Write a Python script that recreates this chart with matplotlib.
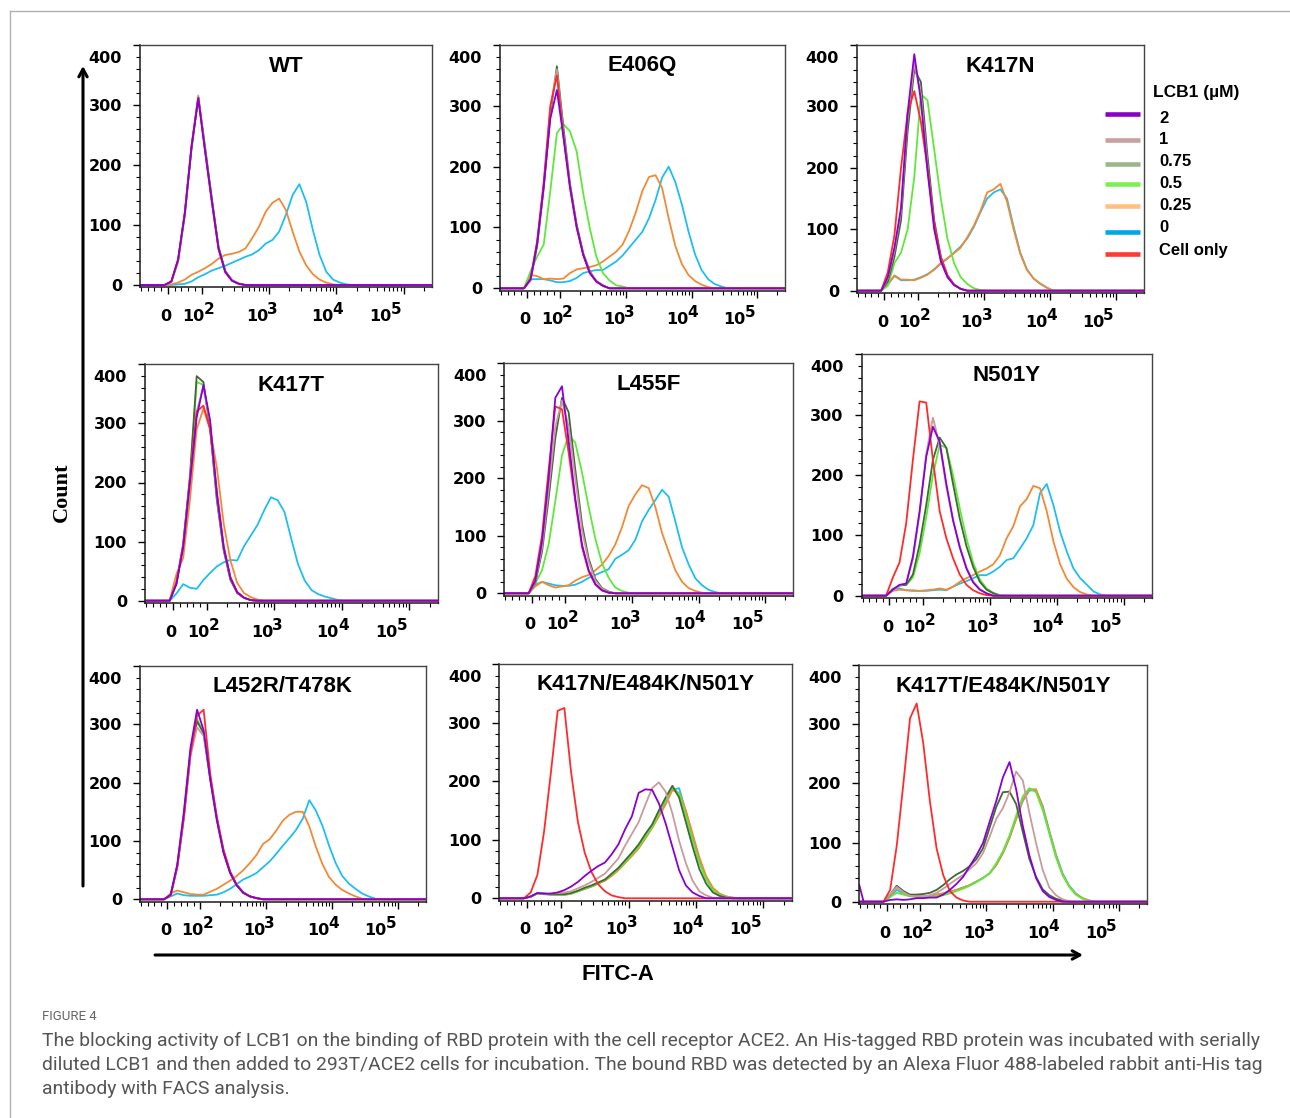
import numpy as np
import matplotlib
matplotlib.use('Agg')
import matplotlib.pyplot as plt
from matplotlib.transforms import ScaledTranslation, blended_transform_factory

plt.rcParams['font.family'] = ['Liberation Sans', 'DejaVu Sans']
plt.rcParams['font.weight'] = 'bold'

# ---------------- data ----------------
# fluorescence (FITC-A) bin centres shared by all histograms
X_GRID = [-10, 10, 30, 50, 70, 90, 112, 141, 178, 224, 282, 355, 447, 562, 708, 891,
          1122, 1413, 1778, 2239, 2818, 3548, 4467, 5623, 7079, 8913, 11220, 14125,
          17783, 22387, 28184, 35481, 44668, 56234, 70795]
X_MIN, X_MAX = -83, 262144

SERIES = ['2', '1', '0.75', '0.5', '0.25', '0', 'Cell only']
PANELS = ['WT', 'E406Q', 'K417N', 'K417T', 'L455F', 'N501Y',
          'L452R/T478K', 'K417N/E484K/N501Y', 'K417T/E484K/N501Y']

# counts per bin (trailing zeros omitted)
WT_2 = [0, 6, 42, 119, 230, 311, 225, 142, 61, 22, 7, 2, 0]
WT_1 = [0, 5, 40, 117, 232, 316, 228, 140, 60, 22, 8, 2, 0]
WT_075 = [0, 5, 41, 120, 228, 313, 230, 145, 63, 23, 8, 2, 0]
WT_05 = [0, 5, 38, 115, 228, 314, 232, 146, 64, 24, 8, 3, 0]
WT_025 = [0, 1, 4, 9, 17, 22, 28, 35, 44, 50, 52, 55, 61, 78, 97, 122, 137, 144, 125, 89, 56, 33, 18, 9, 4, 1, 0]
WT_0 = [0, 0, 1, 2, 6, 13, 18, 24, 28, 32, 37, 42, 47, 51, 58, 69, 75, 89, 117, 150, 168, 139, 92, 50, 22, 9, 4, 1, 0]
WT_CELL = [0, 6, 43, 121, 233, 312, 224, 140, 60, 21, 7, 2, 0]

E406Q_2 = [0, 15, 73, 167, 279, 326, 249, 167, 101, 55, 25, 11, 4, 0]
E406Q_1 = [0, 14, 75, 170, 295, 360, 255, 170, 102, 56, 26, 12, 4, 0]
E406Q_075 = [0, 13, 70, 165, 285, 365, 265, 172, 105, 58, 28, 12, 5, 0]
E406Q_05 = [0, 28, 52, 72, 160, 255, 270, 258, 225, 156, 99, 52, 25, 13, 5, 3, 0]
E406Q_025 = [0, 22, 20, 15, 16, 15, 16, 25, 31, 33, 35, 38, 44, 52, 60, 72, 95, 125, 160, 183, 186, 165, 115, 70, 40, 22, 12, 6, 2, 0]
E406Q_0 = [0, 15, 15, 15, 13, 10, 10, 12, 17, 25, 28, 30, 30, 37, 44, 54, 67, 80, 93, 115, 145, 182, 200, 175, 138, 94, 56, 30, 15, 7, 3, 0]
E406Q_CELL = [0, 16, 78, 175, 300, 350, 250, 165, 100, 55, 25, 11, 4, 0]

K417N_2 = [0, 22, 70, 135, 290, 385, 310, 195, 100, 48, 22, 9, 3, 0]
K417N_1 = [0, 20, 65, 130, 280, 370, 320, 205, 105, 50, 23, 10, 3, 0]
K417N_075 = [0, 15, 55, 115, 260, 360, 340, 220, 115, 55, 25, 10, 3, 0]
K417N_05 = [0, 8, 45, 62, 100, 185, 320, 310, 230, 150, 85, 45, 22, 11, 4, 1, 0]
K417N_025 = [0, 10, 25, 18, 18, 17, 21, 26, 35, 45, 53, 61, 70, 87, 106, 130, 160, 165, 174, 145, 100, 60, 34, 20, 12, 5, 0]
K417N_0 = [0, 10, 24, 17, 17, 18, 22, 27, 34, 44, 52, 62, 72, 85, 104, 128, 150, 160, 165, 150, 104, 62, 35, 20, 11, 5, 0]
K417N_CELL = [0, 30, 90, 200, 290, 325, 275, 200, 110, 55, 25, 10, 3, 0]

K417T_2 = [0, 28, 90, 200, 310, 365, 305, 180, 90, 38, 14, 5, 1, 0]
K417T_1 = [0, 29, 93, 205, 320, 362, 300, 176, 88, 37, 14, 5, 1, 0]
K417T_075 = [0, 30, 95, 210, 380, 370, 290, 170, 85, 35, 13, 5, 1, 0]
K417T_05 = [0, 28, 92, 205, 370, 365, 295, 172, 86, 36, 13, 5, 1, 0]
K417T_025 = [0, 45, 72, 170, 290, 325, 290, 225, 130, 68, 30, 13, 6, 2, 0]
K417T_0 = [0, 12, 28, 22, 20, 35, 47, 58, 65, 69, 68, 92, 110, 128, 153, 175, 170, 150, 105, 62, 34, 18, 11, 7, 4, 1, 0]
K417T_CELL = [0, 30, 95, 205, 320, 330, 290, 185, 92, 40, 15, 5, 1, 0]

L455F_2 = [0, 22, 90, 200, 340, 360, 265, 165, 85, 40, 16, 5, 1, 0]
L455F_1 = [0, 20, 80, 180, 290, 335, 290, 200, 110, 55, 22, 8, 2, 0]
L455F_075 = [0, 18, 72, 165, 270, 340, 315, 215, 120, 60, 25, 9, 3, 0]
L455F_05 = [0, 17, 40, 85, 160, 240, 275, 262, 210, 150, 95, 52, 27, 10, 4, 1, 0]
L455F_025 = [0, 12, 20, 14, 10, 12, 14, 22, 28, 32, 40, 50, 65, 85, 115, 152, 172, 188, 183, 150, 105, 72, 40, 20, 9, 4, 1, 0]
L455F_0 = [0, 15, 20, 17, 14, 13, 13, 15, 20, 27, 32, 37, 42, 60, 67, 75, 93, 125, 145, 162, 180, 168, 125, 80, 50, 26, 14, 6, 2, 0]
L455F_CELL = [0, 30, 100, 215, 325, 320, 245, 160, 80, 38, 15, 5, 1, 0]

N501Y_2 = [0, 10, 18, 20, 65, 140, 230, 280, 255, 185, 125, 80, 45, 22, 10, 4, 0]
N501Y_1 = [0, 9, 17, 20, 60, 135, 235, 295, 250, 180, 125, 82, 47, 24, 11, 4, 0]
N501Y_075 = [0, 10, 17, 18, 35, 85, 150, 225, 262, 245, 185, 128, 82, 48, 23, 10, 4, 0]
N501Y_05 = [0, 10, 17, 18, 30, 70, 130, 200, 250, 245, 200, 145, 95, 55, 27, 12, 5, 1, 0]
N501Y_025 = [0, 8, 10, 9, 9, 8, 9, 10, 12, 10, 15, 23, 29, 34, 40, 45, 52, 67, 95, 115, 148, 160, 182, 178, 140, 90, 52, 28, 14, 6, 2, 0]
N501Y_0 = [0, 12, 12, 9, 8, 8, 8, 9, 10, 9, 15, 20, 24, 29, 34, 34, 40, 48, 59, 62, 78, 95, 117, 170, 185, 150, 106, 73, 45, 29, 18, 7, 2, 0]
N501Y_CELL = [0, 30, 55, 120, 225, 322, 320, 225, 140, 95, 62, 35, 18, 9, 4, 1, 0]

L452R_2 = [0, 8, 60, 150, 260, 325, 290, 205, 135, 80, 45, 24, 11, 5, 2, 0]
L452R_1 = [0, 7, 55, 140, 245, 295, 280, 210, 140, 85, 47, 25, 12, 5, 2, 0]
L452R_075 = [0, 7, 57, 142, 250, 305, 285, 208, 138, 82, 46, 24, 11, 5, 2, 0]
L452R_05 = [0, 8, 58, 148, 255, 310, 283, 205, 135, 80, 45, 24, 11, 5, 2, 0]
L452R_025 = [0, 10, 15, 12, 9, 8, 8, 13, 18, 25, 32, 40, 50, 62, 76, 95, 103, 118, 135, 145, 150, 150, 125, 90, 60, 38, 25, 16, 10, 5, 1, 0]
L452R_0 = [0, 5, 10, 7, 6, 6, 6, 7, 8, 12, 18, 26, 34, 39, 45, 55, 65, 78, 92, 105, 119, 138, 170, 152, 126, 92, 62, 40, 27, 18, 10, 5, 1, 0]
L452R_CELL = [0, 7, 55, 140, 250, 315, 325, 215, 140, 85, 48, 25, 12, 5, 2, 0]

NEN_2 = [0, 3, 9, 8, 8, 10, 14, 20, 28, 38, 47, 55, 61, 75, 92, 118, 140, 180, 186, 185, 162, 128, 88, 48, 22, 10, 4, 0]
NEN_1 = [0, 3, 9, 8, 8, 9, 10, 12, 17, 22, 28, 35, 42, 55, 68, 90, 110, 130, 160, 188, 198, 182, 145, 98, 60, 30, 12, 5, 1, 0]
NEN_075 = [0, 3, 9, 8, 7, 7, 7, 9, 13, 18, 22, 27, 32, 42, 52, 65, 78, 92, 110, 126, 150, 172, 192, 172, 130, 88, 50, 25, 10, 4, 1, 0]
NEN_05 = [0, 3, 8, 8, 6, 6, 6, 8, 12, 17, 21, 26, 32, 40, 50, 62, 75, 88, 105, 122, 145, 168, 190, 178, 140, 98, 60, 32, 14, 6, 2, 0]
NEN_025 = [0, 3, 9, 8, 6, 6, 6, 8, 12, 16, 20, 25, 30, 38, 48, 60, 72, 85, 102, 120, 140, 160, 185, 180, 150, 110, 70, 38, 18, 8, 3, 1, 0]
NEN_0 = [0, 3, 8, 7, 6, 6, 6, 8, 12, 16, 20, 25, 31, 40, 50, 62, 74, 88, 104, 122, 142, 165, 185, 188, 148, 105, 65, 35, 16, 7, 3, 1, 0]
NEN_CELL = [0, 10, 40, 115, 215, 320, 325, 215, 130, 78, 45, 24, 12, 5, 2, 0]

TEN_2 = [0, 3, 4, 3, 4, 6, 6, 7, 7, 12, 20, 30, 42, 60, 78, 99, 135, 170, 210, 236, 190, 128, 78, 40, 18, 8, 3, 0]
TEN_1 = [0, 12, 25, 16, 10, 9, 9, 11, 15, 22, 30, 38, 45, 55, 65, 82, 110, 140, 158, 185, 220, 205, 150, 99, 54, 24, 11, 4, 1, 0]
TEN_075 = [0, 12, 27, 18, 12, 12, 13, 15, 20, 28, 38, 46, 52, 60, 72, 90, 125, 160, 185, 186, 165, 118, 72, 42, 21, 11, 5, 2, 0]
TEN_05 = [0, 8, 15, 12, 9, 8, 8, 8, 9, 11, 14, 18, 22, 27, 33, 40, 48, 65, 85, 112, 145, 178, 192, 185, 155, 115, 75, 45, 25, 12, 5, 1, 0]
TEN_025 = [0, 9, 25, 15, 10, 9, 9, 10, 12, 14, 17, 20, 24, 28, 34, 40, 48, 62, 82, 108, 140, 172, 190, 190, 160, 118, 78, 46, 26, 13, 6, 2, 0]
TEN_0 = [0, 8, 20, 13, 10, 9, 9, 10, 12, 14, 17, 20, 24, 28, 34, 40, 48, 62, 82, 108, 140, 170, 188, 188, 162, 120, 80, 48, 27, 14, 6, 2, 0]
TEN_CELL = [0, 20, 95, 200, 310, 335, 268, 170, 90, 45, 18, 7, 2, 0]
# events piled at the low edge of the 2 uM histogram in the last panel
TEN_2_EDGE_X = [-83, -70]
TEN_2_EDGE = [28, 0]

PANEL_DATA = [
    [WT_2, WT_1, WT_075, WT_05, WT_025, WT_0, WT_CELL],
    [E406Q_2, E406Q_1, E406Q_075, E406Q_05, E406Q_025, E406Q_0, E406Q_CELL],
    [K417N_2, K417N_1, K417N_075, K417N_05, K417N_025, K417N_0, K417N_CELL],
    [K417T_2, K417T_1, K417T_075, K417T_05, K417T_025, K417T_0, K417T_CELL],
    [L455F_2, L455F_1, L455F_075, L455F_05, L455F_025, L455F_0, L455F_CELL],
    [N501Y_2, N501Y_1, N501Y_075, N501Y_05, N501Y_025, N501Y_0, N501Y_CELL],
    [L452R_2, L452R_1, L452R_075, L452R_05, L452R_025, L452R_0, L452R_CELL],
    [NEN_2, NEN_1, NEN_075, NEN_05, NEN_025, NEN_0, NEN_CELL],
    [TEN_2, TEN_1, TEN_075, TEN_05, TEN_025, TEN_0, TEN_CELL],
]

XTICKS = [0, 1e2, 1e3, 1e4, 1e5]
XTICK_BASE = ['0', '10', '10', '10', '10']
XTICK_EXP = ['', '2', '3', '4', '5']
YTICKS = [0, 100, 200, 300, 400]

# ---------------- style / layout ----------------
LINE_COLORS = ['#8a00d4', '#c79c9a', '#3f6a33', '#5fe83a', '#f28a35', '#1fbef0', '#ff2b2b']
SWATCH_COLORS = ['#8b00c8', '#c8a0a0', '#9db48c', '#7cf050', '#ffc080', '#00a8e8', '#ff3838']
DRAW_ORDER = [5, 4, 3, 2, 1, 6, 0]
TICK_FONT = ['DejaVu Sans']

# axes boxes in pixels: left, right, top (=400), zero line
BOXES = [
    (140, 432, 45, 285), (500, 785, 45, 288.3), (857, 1144, 45, 290.7),
    (145, 437.7, 364.3, 600.7), (504.3, 793.3, 363.3, 593.3), (861.7, 1151.7, 354.3, 595.7),
    (140, 426, 666, 899.3), (499.3, 791.7, 664, 898.3), (859.3, 1146.7, 665, 901.7),
]
XLAB_SHIFT = [-2, 3, -1, -3, -12]
XLAB_DY = -29

W, H = 1290, 1118
fig = plt.figure(figsize=(W / 100, H / 100), dpi=100)
fig.patch.set_facecolor('white')

xs = np.concatenate([[X_MIN], X_GRID, [X_MAX]])


def full(vals):
    y = np.zeros(len(X_GRID))
    y[:len(vals)] = vals
    return np.concatenate([[0], y, [0]])


def px(dx, dy):
    return ScaledTranslation(dx / 100, dy / 100, fig.dpi_scale_trans)


YMIN = -4
minor_x = [-80, -60, -40, -20, 20, 40, 60, 80]
for e in range(2, 6):
    for k in range(2, 10):
        v = k * 10 ** e
        if v < X_MAX:
            minor_x.append(v)

for pi, (name, curves, box) in enumerate(zip(PANELS, PANEL_DATA, BOXES)):
    L, R, T, Y0 = box
    B = Y0 + (Y0 - T) * (-YMIN) / 400.0
    ax = fig.add_axes([L / W, 1 - B / H, (R - L) / W, (B - T) / H])
    ax.set_xscale('symlog', linthresh=100, linscale=0.45, base=10)
    for si in DRAW_ORDER:
        ax.plot(xs, full(curves[si]), color=LINE_COLORS[si], lw=1.3, solid_joinstyle='round')
        if pi == 8 and si == 0:
            ax.plot(TEN_2_EDGE_X, TEN_2_EDGE, color=LINE_COLORS[0], lw=1.3)
    ax.set_xlim(X_MIN, X_MAX)
    ax.set_ylim(YMIN, 400)
    ax.set_xticks(XTICKS)
    ax.set_xticklabels([])
    ax.set_xticks(minor_x, minor=True)
    ax.set_yticks(YTICKS)
    ax.set_yticks(np.arange(0, 401, 20), minor=True)
    ax.tick_params(axis='x', which='major', length=5, width=1)
    ax.tick_params(axis='x', which='minor', length=3, width=0.8)
    ax.tick_params(axis='y', which='major', length=5, width=1, pad=8)
    ax.tick_params(axis='y', which='minor', length=3, width=0.8)
    for lab in ax.get_yticklabels():
        lab.set_family(TICK_FONT)
        lab.set_fontsize(11.5)
        lab.set_fontweight('bold')
    ylabs = ax.get_yticklabels()
    ylabs[-1].set_transform(ylabs[-1].get_transform() + px(0, -12))
    # x tick labels: base and raised exponent, tied to tick positions
    bt = blended_transform_factory(ax.transData, ax.transAxes)
    for v, base, ex, dx in zip(XTICKS, XTICK_BASE, XTICK_EXP, XLAB_SHIFT):
        if ex == '':
            ax.text(v, 0, base, transform=bt + px(dx, XLAB_DY), ha='center', va='center',
                    fontsize=11.5, fontweight='bold', family=TICK_FONT)
        else:
            ax.text(v, 0, base, transform=bt + px(dx, XLAB_DY), ha='right', va='center',
                    fontsize=11.5, fontweight='bold', family=TICK_FONT)
            ax.text(v, 0, ex, transform=bt + px(dx - 1, XLAB_DY + 7), ha='left', va='center',
                    fontsize=11, fontweight='bold', family=TICK_FONT)
    for s in ['left', 'bottom']:
        ax.spines[s].set_color('#1a1a1a')
        ax.spines[s].set_linewidth(1.1)
    for s in ['top', 'right']:
        ax.spines[s].set_color('#444444')
        ax.spines[s].set_linewidth(1.0)
    ax.text(0.5, 1.0, name, transform=ax.transAxes + px(0, -21),
            ha='center', va='center', fontsize=16, fontweight='bold')

# ---------------- overlay: arrows, legend, caption ----------------
ov = fig.add_axes([0, 0, 1, 1])
ov.set_xlim(0, W)
ov.set_ylim(H, 0)
ov.axis('off')
ov.patch.set_alpha(0)

ov.plot([10, 10], [11, H], color='#b0b0b0', lw=1)
ov.plot([10, W], [11, 11], color='#b0b0b0', lw=1)

ov.annotate('', xy=(83, 66), xytext=(83, 886),
            arrowprops=dict(arrowstyle='->,head_length=0.55,head_width=0.3', lw=2.2, color='black',
                            shrinkA=0, shrinkB=0))
ov.annotate('', xy=(1083, 955), xytext=(155, 955),
            arrowprops=dict(arrowstyle='->,head_length=0.55,head_width=0.3', lw=2.2, color='black',
                            shrinkA=0, shrinkB=0))
ov.text(62, 492, 'Count', rotation=90, ha='center', va='center', fontsize=16, fontweight='bold',
        family=['Liberation Serif', 'DejaVu Serif'])
ov.text(618, 975, 'FITC-A', ha='center', va='center', fontsize=16, fontweight='bold')

# legend
ov.text(1153, 92, 'LCB1 (\u00b5M)', ha='left', va='center', fontsize=12.5, fontweight='bold')
SW_Y = [113.5, 139.5, 164, 184, 205.5, 231.5, 254]
LB_Y = [118.5, 140, 161, 183, 205, 228, 250]
for i, lab in enumerate(SERIES):
    ov.plot([1105, 1140], [SW_Y[i], SW_Y[i]], color=SWATCH_COLORS[i], lw=3.3, solid_capstyle='butt')
    ov.text(1159, LB_Y[i], lab, ha='left', va='center', fontsize=12, fontweight='bold')

# caption
CAP_FONT = ['Roboto', 'DejaVu Sans']
ov.text(42, 1016, 'FIGURE 4', ha='left', va='center', fontsize=9.5, color='#666666',
        fontweight='normal', family=CAP_FONT)
CAPTION = [
    'The blocking activity of LCB1 on the binding of RBD protein with the cell receptor ACE2. An His-tagged RBD protein was incubated with serially',
    'diluted LCB1 and then added to 293T/ACE2 cells for incubation. The bound RBD was detected by an Alexa Fluor 488-labeled rabbit anti-His tag',
    'antibody with FACS analysis.',
]
renderer = fig.canvas.get_renderer()
cap_texts = []
for i, line in enumerate(CAPTION):
    t = ov.text(42, 1041 + 24 * i, line, ha='left', va='center', fontsize=12, color='#555555',
                fontweight='normal', family=CAP_FONT)
    cap_texts.append(t)
w0 = cap_texts[0].get_window_extent(renderer=renderer).width
fs = 12 * 1212.0 / w0
for t in cap_texts:
    t.set_fontsize(fs)

fig.savefig('out.png', dpi=100, facecolor='white')
